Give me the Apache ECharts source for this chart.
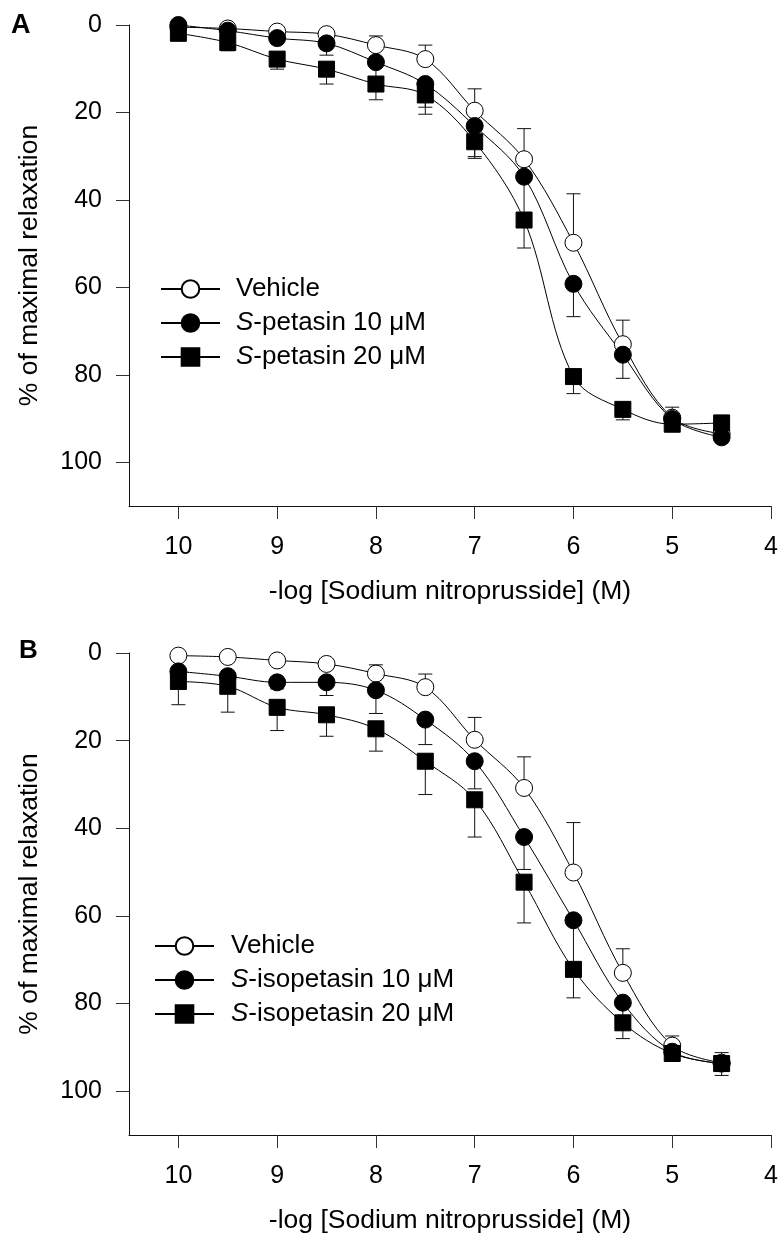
<!DOCTYPE html>
<html>
<head>
<meta charset="utf-8">
<script src="https://cdn.jsdelivr.net/npm/echarts@6/dist/echarts.min.js"></script>
<style>
  html, body { margin: 0; padding: 0; background: #fff; }
  #chart { width: 781px; height: 1240px; }
</style>
</head>
<body>
<div id="chart"></div>
<script>
// -log molar concentration of sodium nitroprusside
const doses = [10, 9.5, 9, 8.5, 8, 7.5, 7, 6.5, 6, 5.5, 5, 4.5];
const xTicks = [10, 9, 8, 7, 6, 5, 4];
const yTicks = [0, 20, 40, 60, 80, 100];

// Panel A: S-petasin (mean % relaxation and SEM)
const vehicleA     = [0.5, 0.8, 1.5, 2.1, 4.6, 7.8, 19.6, 30.7, 49.8, 73.0, 89.8, 93.5];
const vehicleSemA  = [0.3, 0.4, 0.5, 0.6, 2.1, 3.2, 5.0, 7.0, 11.2, 5.5, 2.4, 1.0];
const petasin10    = [0.0, 1.3, 3.0, 4.2, 8.5, 13.5, 23.1, 34.7, 59.2, 75.4, 90.1, 94.3];
const petasin10Sem = [0.5, 0.8, 1.0, 2.7, 3.5, 5.3, 7.0, 9.4, 7.5, 5.4, 1.0, 1.0];
const petasin20    = [1.9, 4.0, 7.8, 10.1, 13.5, 16.0, 26.7, 44.6, 80.4, 87.9, 91.3, 91.0];
const petasin20Sem = [0.8, 1.9, 2.3, 3.4, 3.6, 4.4, 3.8, 6.4, 3.9, 2.4, 1.0, 1.0];

// Panel B: S-isopetasin (mean % relaxation and SEM)
const vehicleB        = [0.6, 0.9, 1.7, 2.5, 4.7, 7.8, 19.8, 30.8, 50.1, 73.0, 89.6, 93.5];
const vehicleSemB     = [0.3, 0.4, 0.5, 0.6, 2.0, 3.0, 5.1, 7.1, 11.4, 5.5, 2.2, 2.3];
const isopetasin10    = [4.2, 5.3, 6.7, 6.7, 8.5, 15.2, 24.7, 42.0, 61.0, 79.8, 91.0, 93.7];
const isopetasin10Sem = [1.5, 1.5, 1.5, 3.0, 5.3, 5.7, 6.3, 7.4, 10.0, 3.0, 1.0, 2.7];
const isopetasin20    = [6.5, 7.6, 12.4, 14.1, 17.3, 24.7, 33.5, 52.3, 72.2, 84.4, 91.4, 93.7];
const isopetasin20Sem = [5.3, 5.9, 5.3, 4.9, 5.1, 7.6, 8.5, 9.3, 6.5, 3.6, 1.0, 1.5];

const FONT = 'Liberation Sans, Arial, Helvetica, sans-serif';
const INK = '#000';

function points(values) {
  return doses.map((d, i) => [d, values[i]]);
}

// Fitted curve with markers
function curve(name, values, gridIdx, symbol, fill, size) {
  return {
    type: 'line',
    name: name,
    xAxisIndex: gridIdx,
    yAxisIndex: gridIdx,
    data: points(values),
    smooth: 0.35,
    symbol: symbol,
    symbolSize: size,
    showAllSymbol: true,
    lineStyle: { color: INK, width: 1 },
    itemStyle: { color: fill, borderColor: INK, borderWidth: 1, opacity: 1 },
    emphasis: { disabled: true },
    animation: false,
    z: 3
  };
}

// One-sided SEM bars; dir = -1 draws toward 0, +1 toward 100
function errorBars(values, sem, dir, gridIdx) {
  return {
    type: 'custom',
    xAxisIndex: gridIdx,
    yAxisIndex: gridIdx,
    data: doses.map((d, i) => [d, values[i], values[i] + dir * sem[i]]),
    encode: { x: 0, y: [1, 2] },
    renderItem: function (params, api) {
      const p0 = api.coord([api.value(0), api.value(1)]);
      const p1 = api.coord([api.value(0), api.value(2)]);
      const hw = 7;
      return {
        type: 'group',
        children: [
          { type: 'line', shape: { x1: p0[0], y1: p0[1], x2: p1[0], y2: p1[1] },
            style: { stroke: '#111', lineWidth: 1 } },
          { type: 'line', shape: { x1: p1[0] - hw, y1: p1[1], x2: p1[0] + hw, y2: p1[1] },
            style: { stroke: '#111', lineWidth: 1 } }
        ]
      };
    },
    silent: true,
    animation: false,
    z: 2
  };
}

function xAxis(gridIdx) {
  return {
    gridIndex: gridIdx,
    type: 'value',
    min: 4, max: 10.5, interval: 1,
    inverse: true,
    axisLine: { show: true, onZero: false, lineStyle: { color: '#111', width: 1 } },
    axisTick: { show: true, length: 13, customValues: xTicks, lineStyle: { color: '#333', width: 1 } },
    axisLabel: { customValues: xTicks, margin: 29, fontSize: 25, color: INK, fontFamily: FONT },
    splitLine: { show: false },
    name: '-log [Sodium nitroprusside] (M)',
    nameLocation: 'middle',
    nameGap: 72,
    nameTextStyle: { fontSize: 26.5, color: INK, fontFamily: FONT }
  };
}

function yAxis(gridIdx) {
  return {
    gridIndex: gridIdx,
    type: 'value',
    min: 0, max: 110, interval: 20,
    inverse: true,
    axisLine: { show: true, onZero: false, lineStyle: { color: '#111', width: 1 } },
    axisTick: { show: true, length: 13, customValues: yTicks, lineStyle: { color: '#333', width: 1 } },
    axisLabel: { customValues: yTicks, margin: 27, fontSize: 25, color: INK, fontFamily: FONT },
    splitLine: { show: false },
    name: '% of maximal relaxation',
    nameLocation: 'middle',
    nameGap: 86,
    nameTextStyle: { fontSize: 26.5, color: INK, fontFamily: FONT }
  };
}

function legend(names, left, top, textPad) {
  return {
    data: names,
    orient: 'vertical',
    left: left,
    top: top,
    padding: 0,
    itemWidth: 59,
    itemHeight: 22,
    itemGap: 8,
    selectedMode: false,
    formatter: function (name) {
      return name.indexOf('S-') === 0 ? '{it|S}-' + name.slice(2) : name;
    },
    textStyle: {
      fontSize: 26, color: INK, fontFamily: FONT,
      padding: [0, 0, 0, textPad],
      rich: { it: { fontStyle: 'italic', fontSize: 26, color: INK, fontFamily: FONT } }
    }
  };
}

const chart = echarts.init(document.getElementById('chart'), null, { renderer: 'canvas' });

chart.setOption({
  backgroundColor: '#fff',
  animation: false,
  textStyle: { fontFamily: FONT },
  grid: [
    { left: 129, top: 25, width: 642, height: 481 },
    { left: 129, top: 653, width: 642, height: 482 }
  ],
  xAxis: [xAxis(0), xAxis(1)],
  yAxis: [yAxis(0), yAxis(1)],
  legend: [
    legend(['Vehicle', 'S-petasin 10 μM', 'S-petasin 20 μM'], 160, 276, 11),
    legend(['Vehicle', 'S-isopetasin 10 μM', 'S-isopetasin 20 μM'], 154, 933, 12)
  ],
  graphic: [
    { type: 'text', left: 11, top: 12, style: { text: 'A', font: 'bold 27px ' + FONT, fill: INK } },
    { type: 'text', left: 19, top: 638, style: { text: 'B', font: 'bold 26px ' + FONT, fill: INK } }
  ],
  series: [
    errorBars(vehicleA, vehicleSemA, -1, 0),
    errorBars(petasin20, petasin20Sem, 1, 0),
    errorBars(petasin10, petasin10Sem, 1, 0),
    curve('Vehicle', vehicleA, 0, 'circle', '#fff', 17),
    curve('S-petasin 20 μM', petasin20, 0, 'rect', INK, 16),
    curve('S-petasin 10 μM', petasin10, 0, 'circle', INK, 17),

    errorBars(vehicleB, vehicleSemB, -1, 1),
    errorBars(isopetasin20, isopetasin20Sem, 1, 1),
    errorBars(isopetasin10, isopetasin10Sem, 1, 1),
    curve('Vehicle', vehicleB, 1, 'circle', '#fff', 17),
    curve('S-isopetasin 20 μM', isopetasin20, 1, 'rect', INK, 16),
    curve('S-isopetasin 10 μM', isopetasin10, 1, 'circle', INK, 17)
  ]
});
</script>
</body>
</html>
